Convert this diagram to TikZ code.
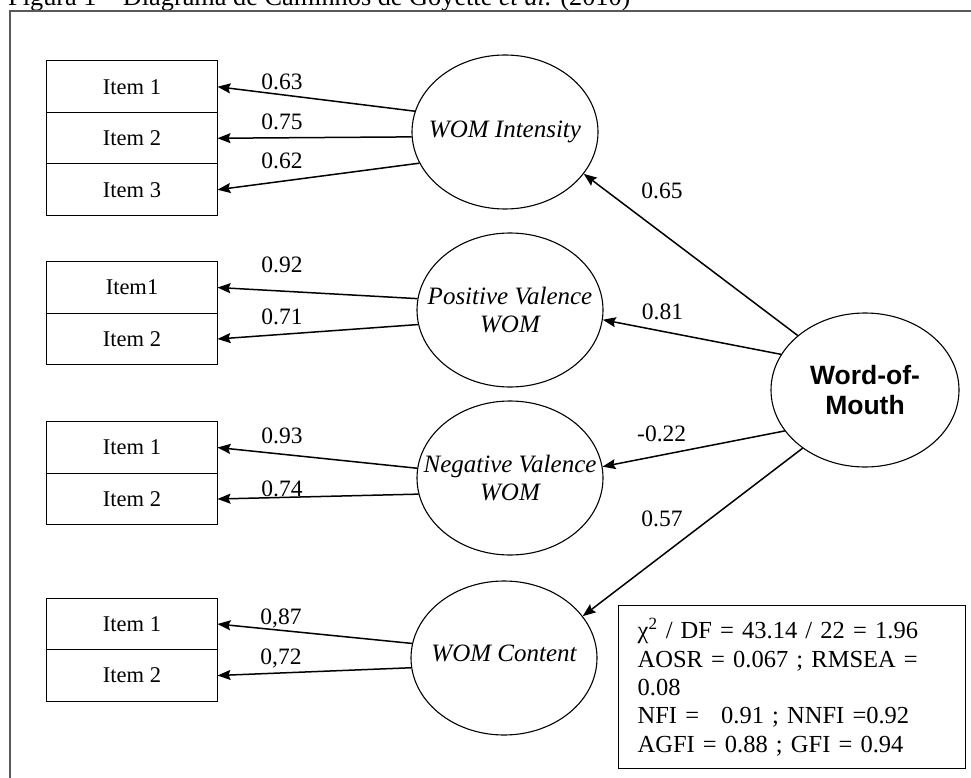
\documentclass[tikz,border=0pt]{standalone}
\usepackage{fontspec}
\setmainfont{Liberation Serif}
\newfontfamily\wordfont{Liberation Sans}
\usetikzlibrary{shapes.geometric,arrows.meta,positioning}

\tikzset{
  itembox/.style={draw, line width=1pt, minimum width=171pt, minimum height=51.5pt,
    outer sep=0pt, font=\fontsize{22.5}{26}\selectfont},
  latent/.style={draw, ellipse, line width=1.1pt, minimum width=186pt,
    minimum height=154pt, inner sep=0pt},
  lattext/.style={align=center, font=\fontsize{25}{28}\selectfont\itshape},
  load/.style={-{Stealth[length=13pt,width=10pt,inset=2pt]}, line width=1.5pt},
  coef/.style={anchor=base, inner sep=0pt, font=\fontsize{23.5}{26}\selectfont}
}

\begin{document}
\begin{tikzpicture}[x=1pt,y=-1pt]
\useasboundingbox (0,0) rectangle (971,778);
% caption, cut by the page edge
\node[anchor=base west, inner sep=0pt, font=\fontsize{26.3}{30}\selectfont] (caption) at (8,6)
  {Figura 1 -- Diagrama de Caminhos de Goyette \textit{et al.} (2010)};
\draw[line width=1.8pt, black!65] (10,778) -- (10,11) -- (971,11);

% latent variables
\node[latent, label={[lattext]center:WOM Intensity}] (wint) at (505,132) {};
\node[latent, label={[lattext]center:{Positive Valence\\WOM}}] (wpos) at (510,310) {};
\node[latent, label={[lattext]center:{Negative Valence\\WOM}}] (wneg) at (510,478) {};
\node[latent, label={[lattext, yshift=5pt]center:WOM Content}] (wcont) at (504,658) {};
\node[latent, minimum width=188pt, label={[align=center,
  font=\wordfont\bfseries\fontsize{26.5}{30}\selectfont]center:{Word-of-\\Mouth}}] (wom) at (865,390) {};

% items
\node[itembox] (a1) at (132,86.75) {Item 1};
\node[itembox, below=0pt of a1] (a2) {Item 2};
\node[itembox, below=0pt of a2] (a3) {Item 3};
\node[itembox] (b1) at (132,287.5) {Item1};
\node[itembox, below=0pt of b1] (b2) {Item 2};
\node[itembox] (c1) at (132,447.5) {Item 1};
\node[itembox, below=0pt of c1] (c2) {Item 2};
\node[itembox] (d1) at (132,624) {Item 1};
\node[itembox, below=0pt of d1] (d2) {Item 2};

% loadings
\draw[load] (wint.167) -- (a1.east);
\draw[load] (wint.183) -- (a2.east);
\draw[load] (wint.200) -- (a3.east);
\draw[load] (wpos.173) -- (b1.east);
\draw[load] (wpos.189) -- (b2.east);
\draw[load] (wneg.174) -- (c1.east);
\draw[load] (wneg.190) -- (c2.east);
\draw[load] (wcont.171) -- (d1.east);
\draw[load] (wcont.186) -- (d2.east);

\node[coef] (k1) at (282,89.7) {0.63};
\node[coef] (k2) at (282,129.7) {0.75};
\node[coef] (k3) at (282,168) {0.62};
\node[coef] (k4) at (282,272) {0.92};
\node[coef] (k5) at (282,324.7) {0.71};
\node[coef] (k6) at (282,443) {0.93};
\node[coef] (k7) at (282,496) {0.74};
\node[coef] (k8) at (281,624.7) {0,87};
\node[coef] (k9) at (281,664.7) {0,72};

% second order
\draw[load] (wom.141) -- (wint.-28);
\draw[load] (wom.157) -- (wpos.-6);
\draw[load] (wom.207) -- (wneg.7);
\draw[load] (wom.223) -- (wcont.28);

\node[coef] (g1) at (662,198) {0.65};
\node[coef] (g2) at (662.5,319.7) {0.81};
\node[coef] (g3) at (661.7,441.3) {-0.22};
\node[coef] (g4) at (662,526) {0.57};

% fit indices
\node[draw, line width=1pt, anchor=north west, minimum width=346.7pt, minimum height=163.3pt,
  text width=309pt, align=left, inner xsep=18.4pt, inner ysep=0pt,
  font=\fontsize{24.5}{28.3}\selectfont] (fit) at (618.3,605)
  {χ\textsuperscript{2} / DF = 43.14 / 22 = 1.96\\
   AOSR = 0.067 ; RMSEA =\\
   0.08\\
   NFI =\hspace{0.9em}0.91 ; NNFI =0.92\\
   AGFI = 0.88 ; GFI = 0.94};
\end{tikzpicture}
\end{document}
